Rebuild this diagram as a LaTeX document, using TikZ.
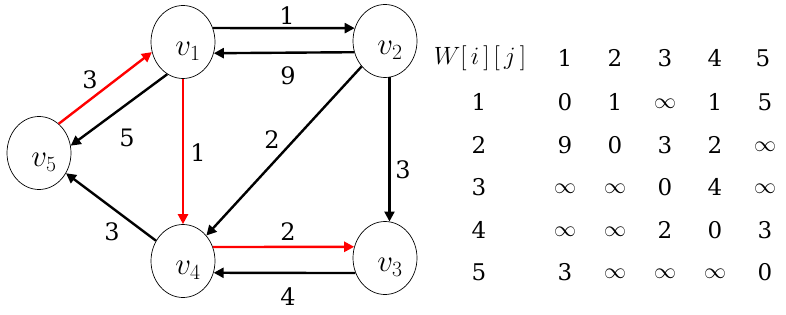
\documentclass[tikz,border=0pt]{standalone}
\usepackage{fix-cm}
\usepackage{fontspec}
\newfontfamily\numfont{DejaVu Serif}
\usetikzlibrary{shapes.geometric,arrows.meta}
\begin{document}
\begin{tikzpicture}[x=1pt,y=-1pt,
  vert/.style={draw,line width=0.7pt,ellipse,minimum width=64pt,minimum height=73pt,inner sep=0pt,text height=27pt,text depth=0pt,font=\fontsize{31}{33}\selectfont},
  edge/.style={line width=2.4pt,-{Triangle[length=10pt,width=10pt]}},
  redge/.style={edge,red},
  lbl/.style={inner sep=0pt,font=\numfont\fontsize{24}{26}\selectfont},
  tab/.style={inner sep=0pt,font=\numfont\fontsize{23}{25}\selectfont},
  inf/.style={inner sep=0pt,font=\fontsize{22}{24}\selectfont}]
\useasboundingbox (0,0) rectangle (786,315);
\node[vert] (v1) at (183,42) {\hspace{10pt}$v_1$};
\node[vert] (v2) at (385,41) {\hspace{10pt}$v_2$};
\node[vert] (v3) at (385,258) {\hspace{10pt}$v_3$};
\node[vert] (v4) at (183,261) {\hspace{10pt}$v_4$};
\node[vert] (v5) at (39,153) {\hspace{10pt}$v_5$};
\draw[edge] (v1.25) -- (v2.157);
\draw[edge] (v2.200) -- (v1.-20);
\draw[edge] (v2) -- (v4);
\draw[edge] (v2.-83) -- (v3.83);
\draw[redge] (v1.south) -- (v4.north);
\draw[redge] (v5.56) -- (v1.198);
\draw[edge] (v1.244) -- (v5.13);
\draw[edge] (v4) -- (v5);
\draw[redge] (v4.25) -- (v3.160);
\draw[edge] (v3.207) -- (v4.-21);
\node[lbl] (l12) at (287,16) {1};
\node[lbl] (l21) at (288,76) {9};
\node[lbl] (l24) at (272,140) {2};
\node[lbl] (l23) at (403,170) {3};
\node[lbl] (l14) at (198,153) {1};
\node[lbl] (l51) at (90,80) {3};
\node[lbl] (l15) at (127,138) {5};
\node[lbl] (l45) at (112,232) {3};
\node[lbl] (l43) at (288,232) {2};
\node[lbl] (l34) at (288,297) {4};
\node[inf,font=\fontsize{25}{27}\selectfont] (w) at (480,58) {$W[\,i\,]\,[\,j\,]$};
\foreach \c/\x in {1/565,2/615,3/665,4/715,5/763}
  \node[tab] (h\c) at (\x,58) {\c};
\foreach \r/\y in {1/102,2/145,3/187,4/230,5/272}
  \node[tab] (r\r) at (479,\y) {\r};
\foreach \r/\y/\row in {1/102/{0,1,-,1,5},2/145/{9,0,3,2,-},3/187/{-,-,0,4,-},4/230/{-,-,2,0,3},5/272/{3,-,-,-,0}}{
  \foreach \v [count=\c] in \row {
    \pgfmathsetmacro{\xx}{515+50*\c}
    \if-\v
      \node[inf] (t\r-\c) at (\xx,\y+2) {$\infty$};
    \else
      \node[tab] (t\r-\c) at (\xx,\y) {\v};
    \fi
  }
}
\end{tikzpicture}
\end{document}
